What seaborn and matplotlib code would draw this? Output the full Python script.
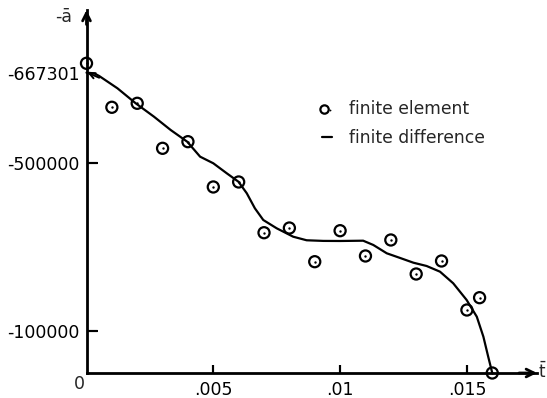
import numpy as np
import pandas as pd
import matplotlib
matplotlib.use("Agg")
import matplotlib.pyplot as plt
from matplotlib.legend_handler import HandlerTuple
from matplotlib.markers import TICKUP, TICKRIGHT
import seaborn as sns

# finite element solution (sampled points)
fe_t = [0.0, 0.001, 0.002, 0.003, 0.004, 0.005, 0.006, 0.007, 0.008,
        0.009, 0.010, 0.011, 0.012, 0.013, 0.014, 0.015, 0.0155, 0.016]
fe_a = [684700, 603200, 610600, 527200, 539500, 442900, 454800, 334000,
        345200, 265000, 338800, 278600, 316700, 235700, 266700, 150000,
        179300, 0]

# finite difference solution (continuous curve)
fd_t = [0.0, 0.0003, 0.0005, 0.00122, 0.00194, 0.00266, 0.00332, 0.00397,
        0.00448, 0.0050, 0.00553, 0.00599, 0.00632, 0.00664, 0.00697,
        0.0075, 0.00815, 0.00868, 0.00934, 0.0100, 0.01091, 0.01131,
        0.01184, 0.01236, 0.01289, 0.01341, 0.01394, 0.01446, 0.01499,
        0.01539, 0.01565, 0.01584, 0.0160]
fd_a = [667301, 666170, 661170, 638400, 610600, 585800, 561100, 539500,
        511700, 499300, 475500, 455500, 427900, 392100, 364300, 344500,
        324500, 316000, 314500, 314300, 315000, 304800, 285000, 274000,
        262600, 254800, 241200, 213600, 173800, 134000, 86400, 38800, 0]

y_ticks = [100000, 500000, 667301]
y_labels = ["-100000", "-500000", "-667301"]
x_ticks = [0.005, 0.010, 0.015]
x_labels = [".005", ".01", ".015"]

# piecewise-linear value axis: anchors (value -> axis units)
scale_vals = np.array([0.0, 500000.0, 667301.0])
scale_pos = np.array([0.0, 500.0, 715.0])


def _pw(v, xs, ys):
    v = np.asarray(v, dtype=float)
    out = np.interp(v, xs, ys)
    lo = (ys[1] - ys[0]) / (xs[1] - xs[0])
    hi = (ys[-1] - ys[-2]) / (xs[-1] - xs[-2])
    out = np.where(v < xs[0], ys[0] + (v - xs[0]) * lo, out)
    out = np.where(v > xs[-1], ys[-1] + (v - xs[-1]) * hi, out)
    return out


def fwd(v):
    return _pw(v, scale_vals, scale_pos)


def inv(p):
    return _pw(p, scale_pos, scale_vals)


sns.set_theme(style="white")
plt.rcParams["font.family"] = ["DejaVu Sans"]
plt.rcParams["lines.solid_joinstyle"] = "round"

W, H = 547, 398
fig = plt.figure(figsize=(W / 100, H / 100), dpi=100)
ax = fig.add_axes([86.5 / W, 25 / H, (537 - 86.5) / W, (373 - 10) / H])
ax.set_yscale("function", functions=(fwd, inv))
ax.set_xlim(0, 0.017764)
ax.set_ylim(0, 783440)

fe = pd.DataFrame({"t": fe_t, "a": fe_a})
fd = pd.DataFrame({"t": fd_t, "a": fd_a})

sns.lineplot(data=fd, x="t", y="a", ax=ax, color="black", lw=1.6,
             estimator=None, sort=False, clip_on=False)
sns.scatterplot(data=fe, x="t", y="a", ax=ax, marker="o", s=64,
                facecolor="none", edgecolor="black", linewidth=1.6,
                clip_on=False, zorder=3)
sns.scatterplot(data=fe, x="t", y="a", ax=ax, marker="o", s=3,
                color="black", linewidth=0, clip_on=False, zorder=3)
ring = ax.collections[0]
dot = ax.collections[1]
line = ax.lines[0]

# axis lines: left/bottom spines plus arrow heads at their far ends
sns.despine(ax=ax, top=True, right=True)
for side in ("left", "bottom"):
    ax.spines[side].set_linewidth(2)
    ax.spines[side].set_color("black")
head = dict(arrowstyle="->", lw=2, color="black", mutation_scale=14,
            shrinkA=0, shrinkB=0)
ax.annotate("", xy=(0, 1.0), xytext=(0, 0.96), xycoords="axes fraction",
            arrowprops=head)
ax.annotate("", xy=(1.0, 0), xytext=(0.96, 0), xycoords="axes fraction",
            arrowprops=head)
# pointer from the curve start to its value
ax.annotate("", xy=(0.00004, 667301), xytext=(0.0005, 658000),
            arrowprops=dict(arrowstyle="->", lw=1.4, color="black",
                            mutation_scale=10, shrinkA=0, shrinkB=0))

ax.set_xlabel("")
ax.set_ylabel("")

fig.text(79 / W, 1 - 384 / H, "0", fontsize=12.5, ha="center", va="center")
fig.text(72 / W, 1 - 17 / H, "-ā", fontsize=12.5, ha="right", va="center")
fig.text(538 / W, 1 - 372 / H, r"$\bar{\mathrm{t}}$", fontsize=12,
         ha="left", va="center")

ax.legend([(ring, dot), line], ["finite element", "finite difference"],
          handler_map={tuple: HandlerTuple(ndivide=None)},
          loc="upper left", bbox_to_anchor=(322 / W, 1 - 100 / H),
          bbox_transform=fig.transFigure, frameon=False, fontsize=12.3,
          handlelength=0.6, handletextpad=1.0, labelspacing=0.65,
          borderpad=0, borderaxespad=0, markerscale=0.75)

# tick labels and inward tick marks
ax.set_xticks(x_ticks)
ax.set_xticklabels(x_labels)
ax.set_yticks(y_ticks)
ax.set_yticklabels(y_labels)
ax.tick_params(axis="x", bottom=True, direction="in", length=6, width=1.5,
               pad=6, labelsize=12.5, color="black", labelcolor="black")
ax.tick_params(axis="y", left=True, direction="in", length=8, width=1.5,
               pad=5, labelsize=12.5, color="black", labelcolor="black")
for i, tk in enumerate(ax.yaxis.get_major_ticks()):
    tk.tick1line.set_visible(i != 2)
xaxis_tf = ax.get_xaxis_transform()
yaxis_tf = ax.get_yaxis_transform()
ax.plot(x_ticks, [0] * len(x_ticks), transform=xaxis_tf, ls="none",
        marker=TICKUP, ms=6, mew=1.5, color="black", clip_on=False,
        zorder=4)
ax.plot([0] * 2, y_ticks[:2], transform=yaxis_tf, ls="none",
        marker=TICKRIGHT, ms=7, mew=1.5, color="black", clip_on=False,
        zorder=4)

fig.savefig("out.png", dpi=100)
